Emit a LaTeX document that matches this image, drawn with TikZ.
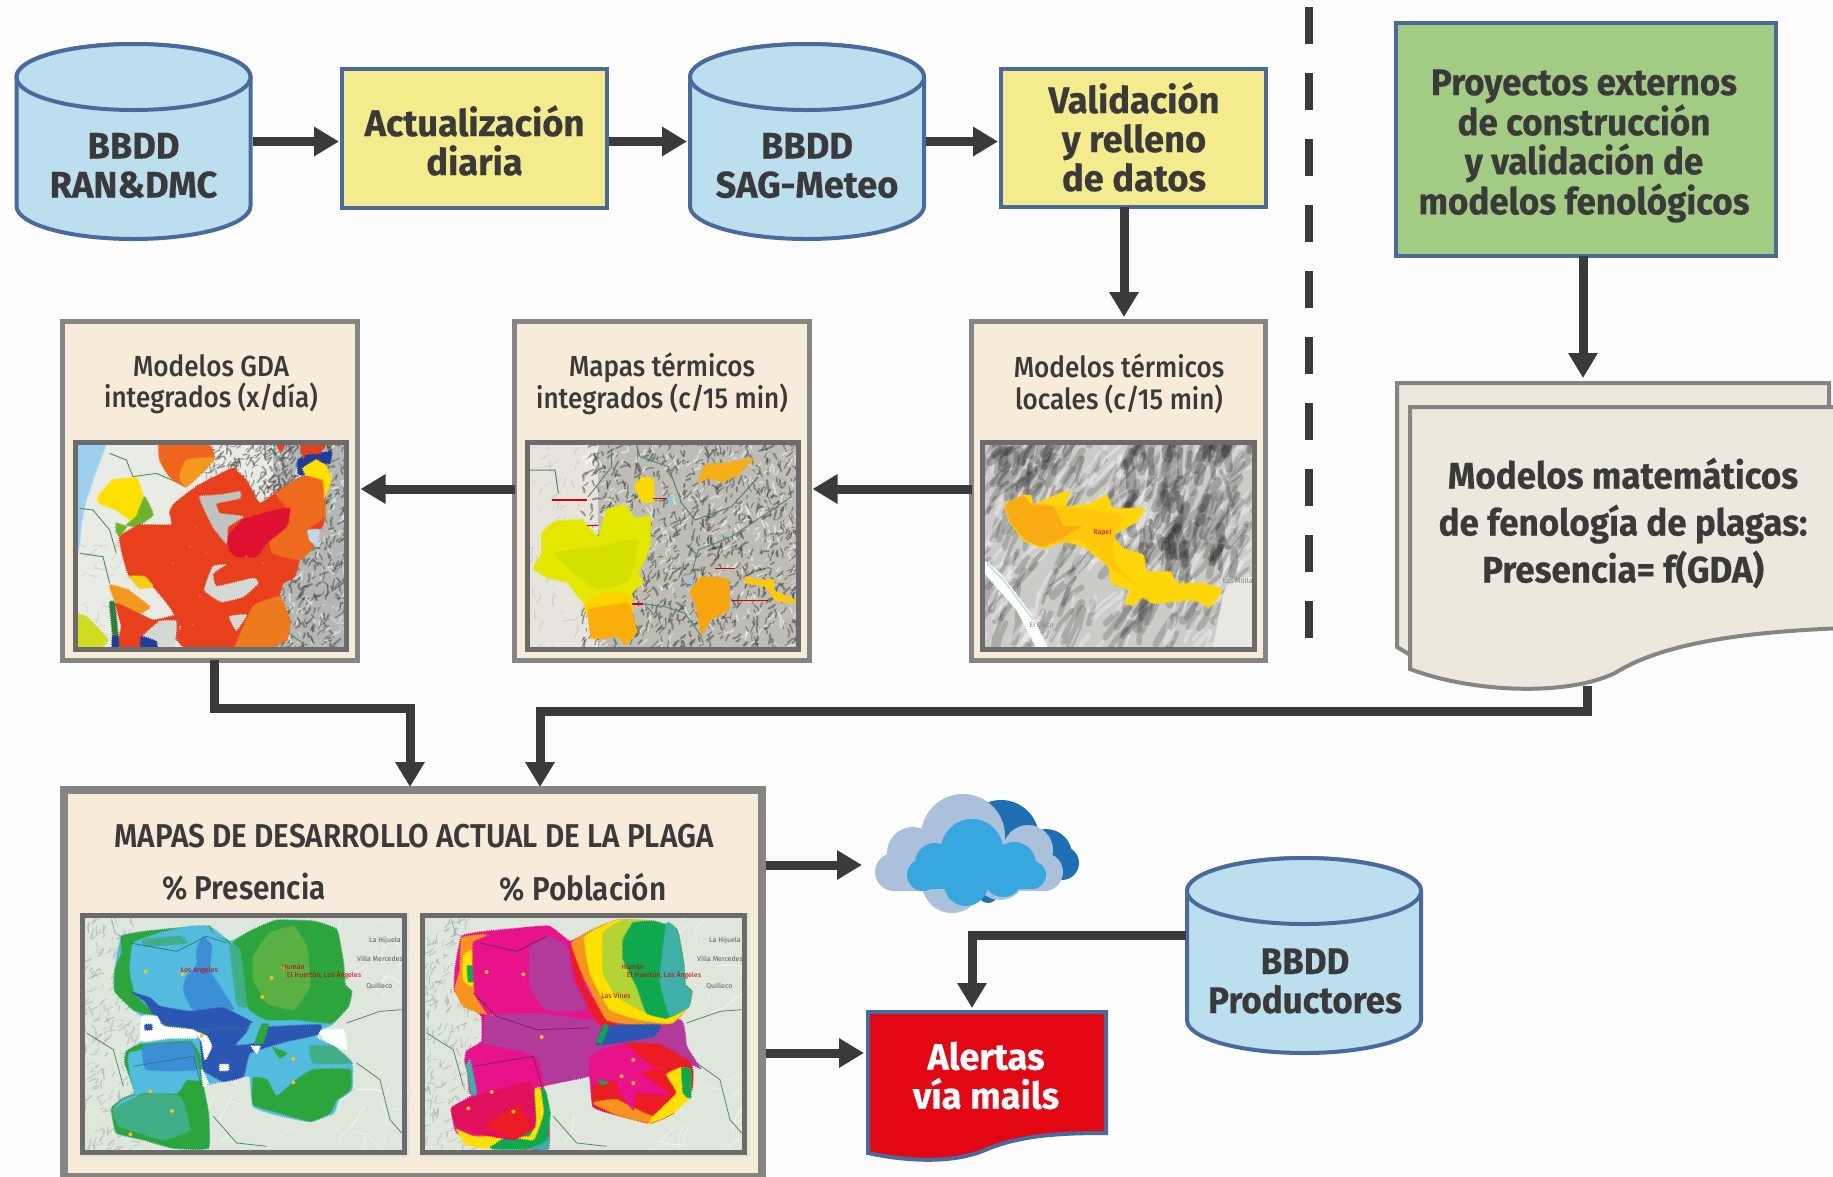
\documentclass[tikz,border=0pt]{standalone}
\usepackage{fontspec}
\usetikzlibrary{arrows.meta,calc}
\newfontfamily\fb[FakeStretch=.98,FakeBold=.35]{Fira Sans}
\newfontfamily\fbn[FakeStretch=.945,FakeBold=.35]{Fira Sans}
\newfontfamily\fm[FakeStretch=.90]{Fira Sans Medium}
\newfontfamily\fs[FakeStretch=.90]{Fira Sans SemiBold}
\newfontfamily\fr{Fira Sans}
\definecolor{pagebg}{HTML}{FDFDFD}
\definecolor{ink}{HTML}{3A3A3A}
\definecolor{edgeblue}{HTML}{4A6A9E}
\definecolor{cylfill}{HTML}{BBDFEE}
\definecolor{yelfill}{HTML}{F4EC8C}
\definecolor{grnfill}{HTML}{A2CC84}
\definecolor{beige}{HTML}{F6ECD9}
\definecolor{docfill}{HTML}{ECE8DD}
\definecolor{edgegray}{HTML}{858585}
\definecolor{framegray}{HTML}{6B6B6B}
\definecolor{redfill}{HTML}{E30613}
\definecolor{cloudA}{HTML}{1F6FB5}
\definecolor{cloudB}{HTML}{ABC0DA}
\definecolor{cloudC}{HTML}{38A7E0}
\definecolor{mgreen}{HTML}{2CA53C}
\definecolor{mgreenL}{HTML}{5AB043}
\definecolor{mlblue}{HTML}{53BBDD}
\definecolor{mmblue}{HTML}{3C8FD5}
\definecolor{mdblue}{HTML}{2B56B2}
\definecolor{mteal}{HTML}{42AE88}
\definecolor{mpurple}{HTML}{B23A9B}
\definecolor{mmag}{HTML}{E8128A}
\definecolor{mcrim}{HTML}{E0105A}
\definecolor{mred}{HTML}{EC1C24}
\definecolor{morange}{HTML}{F7941D}
\definecolor{myellow}{HTML}{FFE000}
\definecolor{mygreen}{HTML}{B4D334}
\definecolor{mgreenB}{HTML}{10A84F}
\definecolor{mtealB}{HTML}{3FB0A8}
\definecolor{landbg}{HTML}{DFE7DD}
\definecolor{adm}{HTML}{4F8A68}
\tikzset{
  HTML/.code={\definecolor{tmpc}{HTML}{#1}\tikzset{color=tmpc}},
  box/.style={rectangle,inner sep=0pt,outer sep=0pt},
  ybox/.style={box,draw=edgeblue,fill=yelfill,line width=4pt},
  gbox/.style={box,draw=edgeblue,fill=grnfill,line width=4pt},
  bbox/.style={box,draw=edgegray,fill=beige,line width=5pt},
  mapframe/.style={box,draw=framegray,line width=5pt},
  hit/.style={box},
  cyl/.style={draw=edgeblue,fill=cylfill,line width=4pt},
  conn/.style={draw=ink,line width=9pt,line join=miter,
    -{Triangle[length=25pt 0 0,width=28pt 0 0,fill=ink]},shorten >=3pt},
  bigt/.style={box,align=center,text=ink,font=\fb\bfseries\fontsize{37}{39}\selectfont},
  bign/.style={box,align=center,text=ink,font=\fbn\bfseries\fontsize{37}{39}\selectfont},
  midt/.style={box,align=center,text=ink,font=\fm\fontsize{29}{31.5}\selectfont},
  semit/.style={box,text=ink,font=\fs\fontsize{33}{35}\selectfont},
  tiny/.style={box,text=#1,font=\fr\fontsize{7}{8}\selectfont},
}
\newcommand\dbcyl[5]{%
  \pgfmathsetmacro\ccx{#2}\pgfmathsetmacro\ctop{#3+35}\pgfmathsetmacro\cbot{#4-35}
  \pgfmathsetmacro\cylL{#2-117}\pgfmathsetmacro\cylR{#2+117}
  \path[cyl] (\cylL,\ctop) -- (\cylL,\cbot) arc[start angle=180,end angle=360,x radius=117pt,y radius=33pt] -- (\cylR,\ctop) arc[start angle=0,end angle=180,x radius=117pt,y radius=33pt] -- cycle;
  \path[cyl] (\ccx,\ctop) ellipse [x radius=117pt,y radius=33pt];
  \pgfmathsetmacro\cmid{(#3+#4)/2}
  \node[hit,minimum width=234pt,minimum height=195pt] (#1) at (\ccx,\cmid) {};
}
\newcommand\mb[2]{\fill[#1] plot[smooth cycle,tension=.22] coordinates {#2};
  \draw[#1,line width=1.6pt,dash pattern=on 1pt off 1.2pt] plot[smooth cycle,tension=.22] coordinates {#2};}
\def\terrop{.5}\def\terrvar{110}
\newcommand\terr[9]{%
  \foreach \i in {1,...,#5}{%
    \pgfmathsetmacro\tx{#1+(#3-#1)*rnd}\pgfmathsetmacro\ty{#2+(#4-#2)*rnd}
    \pgfmathsetmacro\ta{#6+\terrvar*(rnd-.5)}\pgfmathsetmacro\tb{\ta+.7*\terrvar*(rnd-.5)}
    \pgfmathsetmacro\tl{#7*(.4+.8*rnd)}\pgfmathsetmacro\tw{#8*(.5+rnd)}
    \draw[line width=\tw pt,draw=#9,line cap=round,line join=round,opacity=\terrop] (\tx,\ty) -- ++(\ta:\tl) -- ++(\tb:\tl);
  }}
\newcommand\silh{(125,70) (200,55) (385,40) (450,85) (520,50) (590,22) (700,25) (770,50) (790,150) (795,215) (815,235) (805,280) (755,335) (720,350) (710,375) (760,400) (815,450) (815,530) (775,560) (760,600) (690,625) (590,605) (520,580) (510,490) (430,505) (370,520) (385,600) (385,705) (280,705) (190,680) (110,660) (95,585) (165,540) (135,450) (140,415) (185,385) (185,310) (160,290) (105,235) (105,170)}
\begin{document}
\begin{tikzpicture}[x=1pt,y=-1pt]
\useasboundingbox (0,0) rectangle (1833,1176);
\clip (0,0) rectangle (1833,1176);
\fill[pagebg] (0,0) rectangle (1833,1176);
\pgfmathsetseed{4711}

% ---- top row
\dbcyl{cylA}{133.5}{42}{241}{}
\node[bigt] (cylAt) at (133.5,165.5) {BBDD\\RAN\&DMC};
\node[ybox,minimum width=265pt,minimum height=139pt] (act) at (474.5,138.5) {};
\node[bigt] (actt) at (474.5,140.5) {Actualización\\diaria};
\dbcyl{cylB}{807}{42}{241}{}
\node[bigt] (cylBt) at (807,165.5) {BBDD\\SAG-Meteo};
\node[ybox,minimum width=265pt,minimum height=138pt] (val) at (1133.5,138) {};
\node[bigt] (valt) at (1134,137) {Validación\\y relleno\\de datos};
\draw[conn] (cylA.east) ++(2,0) -- (cylA.east -| act.west);
\draw[conn] (act.east) ++(2,3) coordinate (a1) -- (a1 -| cylB.west);
\draw[conn] (cylB.east) ++(2,0) -- (cylB.east -| val.west);

% ---- divider
\coordinate (divT) at (1309,7);
\coordinate (divB) at (1309,640);
\draw[ink,line width=8.5pt,dash pattern=on 37pt off 29pt] (divT) -- (divB);

% ---- green box and documents
\node[gbox,minimum width=380pt,minimum height=233pt] (grn) at (1585.5,139.5) {};
\node[bign] (grnt) at (1584,146) {Proyectos externos\\de construcción\\y validación de\\modelos fenológicos};
\fill[docfill,draw=edgegray,line width=4pt] (1397,383) -- (1829,383) -- (1829,600) -- (1450,620) -- (1412,656) -- (1397,647) -- cycle;
\fill[docfill,draw=edgegray,line width=4pt] (1410,407) -- (1845,407) -- (1845,628) .. controls (1735,632) and (1660,645) .. (1615,673) .. controls (1565,697) and (1470,692) .. (1410,669) -- cycle;
\node[bign] (doct) at (1623,523) [font=\fbn\bfseries\fontsize{37}{47}\selectfont] {Modelos matemáticos\\de fenología de plagas:\\Presencia= f(GDA)};
\coordinate (docTop) at (1583,381);
\coordinate (docBot) at (1587,686);
\draw[conn] (grn.south -| docTop) -- (docTop);

% ---- second row boxes
\node[bbox,minimum width=295pt,minimum height=339pt] (gda) at (210,491) {};
\node[midt] (gdat) at (211,384) {Modelos GDA\\integrados (x/día)};
\node[bbox,minimum width=295pt,minimum height=339pt] (mt) at (662,491) {};
\node[midt] (mtt) at (662,384) {Mapas térmicos\\integrados (c/15 min)};
\node[bbox,minimum width=294pt,minimum height=339pt] (loc) at (1118.5,491) {};
\node[midt] (loct) at (1119,384) {Modelos térmicos\\locales (c/15 min)};
\draw[conn] (val.south -| 1124,0) -- (1124,320);

% ---- GDA map
\begin{scope}[shift={(73,440)},x=.3333pt,y=-.3333pt]
\clip (0,0) rectangle (828,636);
\fill[HTML=E9EBE5] (0,0) rectangle (828,636);
\fill[HTML=B4B8B2] (600,0) rectangle (828,636);
\terr{570}{0}{828}{636}{420}{-70}{12}{1.5}{gray!55!black}
\terr{570}{0}{828}{636}{170}{-70}{11}{1.3}{white}
\terr{380}{10}{660}{180}{170}{-60}{12}{1.3}{gray!60!black}
\terr{0}{300}{160}{636}{40}{-40}{16}{.6}{gray!60}
\mb{HTML=9CD0EE}{(-40,-40) (112,-40) (70,90) (40,180) (25,250) (15,335) (-40,335)}
\draw[adm,line width=.9pt] (110,40) -- (160,60) -- (180,110) -- (250,100) -- (320,130);
\draw[adm,line width=.9pt] (20,205) -- (60,210) -- (110,270) -- (130,340);
\draw[adm,line width=.9pt] (20,340) -- (90,350) -- (110,430);
\draw[adm,line width=.9pt] (660,500) -- (620,560) -- (690,610);
\mb{HTML=F0641E}{(260,-20) (385,-20) (425,55) (340,140) (290,110) (260,60)}
\mb{HTML=F39A1E}{(340,60) (425,55) (340,140) (320,110)}
\mb{myellow}{(75,170) (120,120) (190,115) (210,170) (190,250) (130,210) (80,190)}
\mb{HTML=6DB32E}{(215,170) (240,225) (190,260) (160,255) (190,230)}
\mb{HTML=6DB32E}{(130,250) (160,260) (140,290) (130,275)}
\mb{HTML=E8401C}{(140,290) (200,255) (295,255) (290,215) (305,190) (370,140) (445,100) (480,85) (520,120) (560,190) (620,150) (690,110) (750,120) (755,230) (745,265) (700,270) (720,320) (680,360) (665,410) (630,430) (620,470) (650,540) (640,600) (540,640) (440,640) (330,620) (310,590) (325,560) (290,500) (240,440) (170,410) (150,350)}
\mb{HTML=EE6A1E}{(610,160) (690,110) (750,120) (755,230) (700,270) (720,320) (680,360) (600,340) (590,300) (650,250) (640,200)}
\mb{HTML=EE7A1E}{(540,500) (620,470) (650,540) (640,600) (540,640) (480,640)}
\mb{HTML=E01030}{(465,290) (510,240) (590,215) (650,205) (640,260) (580,310) (550,350) (490,350) (470,330)}
\mb{HTML=BFC4BE}{(380,170) (440,165) (500,155) (500,175) (430,190) (440,220) (510,230) (465,260) (460,310) (420,260) (400,220)}
\mb{HTML=D5D9D4}{(395,450) (420,380) (455,375) (420,400) (430,440) (540,415) (555,430) (510,470) (445,485)}
\mb{HTML=D5D9D4}{(470,530) (520,525) (490,570)}
\foreach \a/\b in {350/320,400/340,370/260,380/470,360/555,520/350,570/370,300/370}{\fill[HTML=F0641E] (\a,\b) circle[radius=4];}
\mb{HTML=F39A1E}{(110,435) (165,450) (230,500) (200,520) (130,490)}
\mb{HTML=E8401C}{(130,490) (240,540) (320,525) (310,600) (215,640) (130,640) (145,560)}
\mb{HTML=D5D9D4}{(210,590) (260,545) (310,545) (300,640) (240,640)}
\mb{HTML=CFDC22}{(0,525) (40,530) (105,600) (60,640) (0,640)}
\mb{HTML=2F7F3A}{(110,490) (125,490) (140,640) (125,640)}
\mb{HTML=1E3C9E}{(118,590) (135,590) (135,640) (118,640)}
\mb{HTML=1E3C9E}{(205,590) (250,605) (250,640) (205,640)}
\mb{HTML=1E3C9E}{(675,60) (700,45) (775,35) (770,70) (745,70) (690,105) (675,100)}
\mb{HTML=E8401C}{(680,-20) (775,-20) (740,40) (700,40) (690,55)}
\mb{myellow}{(690,85) (730,60) (760,80) (775,120) (755,170) (750,120) (700,105)}
\mb{HTML=E8401C}{(595,-20) (650,-20) (625,35)}
\mb{HTML=F0D010}{(170,410) (215,410) (240,440) (200,445)}
\mb{HTML=BFD9E8}{(705,270) (740,270) (730,315) (710,300)}
\end{scope}
\node[mapframe,minimum width=271pt,minimum height=207pt] (gdam) at (211,546) {};

% ---- thermal maps
\begin{scope}[shift={(525,440)},x=.3333pt,y=-.3333pt]
\clip (0,0) rectangle (828,636);
\fill[HTML=E6E4DC] (0,0) rectangle (828,636);
\fill[HTML=BDBDB5] (220,0) rectangle (828,636);
\terr{170}{0}{828}{636}{900}{-70}{12}{1.5}{gray!50!black}
\terr{170}{0}{828}{636}{380}{-70}{11}{1.3}{white}
\terr{0}{0}{170}{636}{70}{-60}{14}{.8}{gray!55}
\draw[adm,line width=1pt] (15,90) -- (90,90) -- (100,160);
\draw[adm,line width=1pt] (335,15) -- (345,50) -- (430,80) -- (470,190) -- (510,240) -- (620,200) -- (700,110);
\draw[adm,line width=1pt] (260,30) -- (260,80) -- (190,170);
\draw[adm,line width=1pt] (340,490) -- (420,500) -- (480,520) -- (530,590);
\draw[adm,line width=1pt] (500,400) -- (520,330) -- (620,290) -- (800,170);
\mb{HTML=E4E800}{(25,385) (50,340) (50,280) (90,245) (170,240) (220,290) (245,210) (300,195) (330,235) (375,230) (375,320) (340,400) (355,425) (320,460) (320,480) (180,490) (130,430) (95,420) (60,410)}
\mb{HTML=D4E000}{(90,340) (220,320) (340,300) (310,420) (220,450) (150,400)}
\mb{HTML=FDD300}{(180,490) (240,455) (300,460) (320,480) (320,520) (190,530)}
\mb{HTML=F9AE0A}{(190,510) (240,500) (310,490) (335,575) (300,615) (280,590) (200,595)}
\mb{HTML=FDD800}{(330,135) (355,110) (385,120) (385,185) (350,185)}
\mb{HTML=F5AE14}{(520,125) (540,75) (600,70) (685,55) (650,90) (640,105) (590,125) (550,115)}
\mb{HTML=F7A50E}{(495,455) (530,410) (610,420) (610,510) (555,540) (530,585) (520,530) (510,490)}
\mb{HTML=FDC80E}{(660,410) (700,420) (750,420) (745,450) (810,480) (805,490) (750,480) (720,440) (665,430)}
\fill[HTML=8CC8E8] (430,172) rectangle (445,188);
\fill[HTML=8CC8E8] (485,418) rectangle (505,432);
\draw[red!85!black,line width=1.4pt] (80,180) -- (185,180) (185,256) -- (220,256) (385,175) -- (425,175) (570,385) -- (630,385) (620,482) -- (730,482) (322,492) -- (355,492);
\end{scope}
\node[mapframe,minimum width=271pt,minimum height=207pt] (mtm) at (663,546) {};

\begin{scope}[shift={(980,440)},x=.3333pt,y=-.3333pt]
\clip (0,0) rectangle (828,636);
\fill[HTML=CBCBC7] (0,0) rectangle (828,636);
\def\terrvar{45}\def\terrop{.22}
\terr{-40}{-20}{828}{660}{230}{-65}{55}{6}{gray!45!black}
\def\terrop{.32}
\terr{-40}{-20}{828}{660}{200}{-60}{50}{3.4}{white}
\def\terrop{.28}
\terr{430}{20}{760}{420}{70}{-80}{40}{7}{gray!35!black}
\terr{20}{40}{260}{180}{40}{-60}{30}{6}{gray!35!black}
\mb{white}{(15,365) (60,400) (150,520) (215,650) (185,650) (110,510) (15,400)}
\draw[HTML=A8D6EC,line width=1pt] (20,370) -- (70,420) -- (160,540);
\mb{HTML=E9E9E4}{(740,440) (850,410) (850,650) (700,650)}
\mb{HTML=FFD60A}{(75,195) (130,165) (155,170) (160,195) (240,160) (270,155) (255,200) (330,190) (380,165) (400,205) (490,205) (470,245) (400,285) (430,325) (490,345) (500,395) (570,395) (590,430) (670,430) (725,450) (690,500) (640,480) (520,490) (490,470) (460,495) (435,490) (450,450) (395,430) (385,380) (310,320) (250,305) (190,325) (130,300) (90,245)}
\mb{HTML=FFC60B}{(120,190) (330,210) (430,230) (400,285) (400,360) (460,430) (380,370) (300,300) (180,310)}
\mb{HTML=F8AC12}{(78,195) (130,168) (155,195) (220,200) (250,260) (300,260) (240,295) (190,320) (135,298) (92,245)}
\node[tiny=red!85!black] (rapel) at (367,278) {Rapel};
\node[tiny=gray] (mollas) at (778,422) {Las Mollas};
\node[tiny=gray] (cisco) at (185,553) {El Cisco};
\end{scope}
\node[mapframe,minimum width=272pt,minimum height=207pt] (locm) at (1118.5,546) {};

\draw[conn] (loc.west |- 0,489) -- (mt.east |- 0,489);
\draw[conn] (mt.west |- 0,489) -- (gda.east |- 0,489);

% ---- main result box
\node[box,draw=edgegray,fill=beige,line width=8pt,minimum width=698pt,minimum height=387pt] (big) at (413,983.5) {};
\node[semit] (bigt) at (414,836) {MAPAS DE DESARROLLO ACTUAL DE LA PLAGA};
\node[semit] (pres) at (244,887) {\% Presencia};
\node[semit] (pobl) at (583,887) {\% Población};

% left pest map
\begin{scope}[shift={(80,913)},x=.3333pt,y=-.3333pt]
\clip (0,0) rectangle (990,732);
\fill[landbg] (0,0) rectangle (990,732);
\terr{0}{30}{170}{720}{220}{-60}{13}{1.1}{gray!70}
\terr{170}{470}{980}{720}{40}{-40}{40}{.8}{white}
\terr{600}{20}{980}{300}{20}{-40}{40}{.8}{white}
\draw[adm,line width=.8pt] (800,330) -- (900,295) -- (965,290);
\draw[adm,line width=.8pt] (830,450) -- (900,500) -- (930,620) -- (965,660);
\draw[adm,line width=.8pt] (400,610) -- (470,690) -- (560,700);
\draw[adm,line width=.8pt] (20,360) -- (100,410) -- (130,520);
\draw[HTML=7DB8D8,line width=.9pt] (95,20) -- (105,60) -- (130,75);
\mb{mlblue}{\silh}
\mb{mgreen}{(125,70) (200,55) (300,45) (390,40) (400,70) (450,90) (470,300) (300,300) (215,305) (160,290) (105,235) (105,170) (125,120)}
\mb{mlblue}{(160,90) (240,60) (330,40) (385,40) (400,65) (445,90) (480,180) (510,300) (400,300) (220,290) (165,240) (150,170)}
\mb{mteal}{(190,80) (300,70) (320,90) (200,100)}
\mb{mmblue}{(370,70) (395,100) (390,170) (425,230) (460,290) (340,290) (310,230) (320,190) (350,160) (350,110)}
\mb{mgreen}{(460,90) (520,50) (590,22) (700,25) (770,50) (790,150) (795,215) (815,235) (805,280) (755,330) (650,320) (560,320) (510,290) (470,210)}
\mb{mgreenL}{(570,60) (640,40) (680,100) (690,220) (640,290) (560,270) (520,200) (520,130)}
\mb{mteal}{(450,100) (480,110) (500,280) (470,270)}
\mb{mgreen}{(140,415) (180,395) (330,385) (360,430) (370,520) (385,600) (385,705) (280,705) (190,680) (110,660) (100,620) (95,585) (130,555) (165,540) (135,450)}
\mb{mlblue}{(150,420) (330,390) (360,500) (320,500) (290,540) (190,540) (130,560) (100,590) (120,640) (200,620) (165,540) (150,480)}
\mb{mmblue}{(190,400) (330,390) (350,470) (200,470)}
\mb{mteal}{(100,590) (190,545) (300,550) (330,650) (250,680) (120,640)}
\mb{mlblue}{(510,430) (600,385) (690,380) (760,400) (815,450) (815,530) (775,560) (760,600) (690,625) (590,605) (520,580) (510,490)}
\mb{mteal}{(690,400) (760,400) (815,450) (700,450)}
\mb{mgreen}{(520,495) (560,500) (590,550) (650,500) (700,470) (810,470) (810,530) (770,560) (750,600) (690,625) (600,600) (520,575)}
\mb{mgreen}{(580,405) (620,420) (600,435)}
\mb{mdblue}{(160,240) (210,255) (240,280) (330,295) (430,285) (520,330) (500,345) (720,335) (710,365) (620,385) (510,420) (490,490) (430,505) (370,470) (360,380) (340,350) (270,345) (225,310) (195,265)}
\mb{mlblue}{(515,330) (560,325) (540,385) (470,395) (500,360)}
\mb{mgreen}{(545,335) (565,335) (550,390) (525,390)}
\mb{white}{(185,310) (230,310) (250,340) (340,350) (350,375) (270,375) (185,385)}
\mb{white}{(345,355) (380,370) (395,400) (375,440) (365,385)}
\mb{white}{(720,355) (790,350) (800,410) (740,385)}
\mb{white}{(365,470) (385,510) (370,520)}
\mb{white}{(420,455) (445,455) (445,472) (420,472)}
\mb{white}{(515,400) (540,400) (530,420)}
\mb{mdblue}{(195,335) (215,335) (215,350) (195,350)}
\draw[HTML=2E6E8A,line width=.7pt] (150,90) -- (290,115) -- (380,70) -- (440,90);
\draw[HTML=2E6E8A,line width=.7pt] (240,330) -- (350,350) -- (510,345);
\draw[HTML=2E6E8A,line width=.7pt] (160,460) -- (340,430) -- (365,520);
\foreach \a/\b in {197/175,308/183,610/163,575/195,547/252,365/368,640/438,640/508,211/535,276/594,151/664}{\fill[HTML=F4C020] (\a,\b) circle[radius=6];}
\node[tiny=gray!70!black] (lhl) at (915,83) {La Hijuela};
\node[tiny=gray!70!black] (vml) at (900,137) {Villa Mercedes};
\node[tiny=gray!70!black] (qul) at (898,218) {Quilleco};
\node[tiny=red!80!black] (lal) at (358,174) {Los Angeles};
\node[tiny=red!80!black] (hul) at (640,160) {Humán};
\node[tiny=red!80!black] (las) at (732,187) {El Huertón, Los Ángeles};
\end{scope}
\node[mapframe,minimum width=322pt,minimum height=237pt] (mapL) at (243.5,1034) {};

% right pest map
\begin{scope}[shift={(420,913)},x=.3333pt,y=-.3333pt]
\clip (0,0) rectangle (990,732);
\fill[landbg] (0,0) rectangle (990,732);
\terr{0}{30}{170}{720}{220}{-60}{13}{1.1}{gray!70}
\terr{170}{470}{980}{720}{40}{-40}{40}{.8}{white}
\terr{600}{20}{980}{300}{20}{-40}{40}{.8}{white}
\draw[adm,line width=.8pt] (800,330) -- (900,295) -- (965,290);
\draw[adm,line width=.8pt] (830,450) -- (900,500) -- (930,620) -- (965,660);
\draw[adm,line width=.8pt] (400,610) -- (470,690) -- (560,700);
\draw[adm,line width=.8pt] (20,360) -- (100,410) -- (130,520);
\draw[HTML=7DB8D8,line width=.9pt] (95,20) -- (105,60) -- (130,75);
\mb{mmag}{\silh}
\mb{mpurple}{(200,310) (340,300) (520,320) (780,320) (800,400) (840,465) (810,450) (700,400) (520,420) (500,490) (430,505) (370,515) (345,430) (160,420) (190,390)}
\mb{morange}{(125,75) (190,65) (215,75) (165,100) (165,240) (220,305) (180,300) (130,280) (105,230) (120,170)}
\mb{myellow}{(130,130) (160,110) (160,220) (130,200)}
\mb{mgreenB}{(142,160) (160,160) (160,205) (145,205)}
\mb{mmag}{(160,90) (250,55) (385,40) (450,100) (470,200) (510,290) (530,320) (400,300) (230,300) (205,305) (165,240)}
\mb{mpurple}{(330,100) (385,70) (440,100) (460,200) (500,290) (380,290) (330,220)}
\mb{mred}{(450,100) (480,130) (490,220) (560,320) (590,335) (540,335) (510,290) (470,200)}
\mb{morange}{(455,90) (520,50) (590,22) (700,25) (770,50) (790,150) (795,215) (815,235) (805,280) (755,330) (650,335) (560,320) (490,190)}
\mb{myellow}{(495,70) (590,22) (700,25) (770,50) (790,150) (795,215) (815,235) (805,280) (755,330) (660,320) (570,290) (510,180)}
\mb{mygreen}{(550,60) (610,22) (700,25) (770,50) (790,150) (795,215) (815,235) (805,280) (755,310) (680,300) (590,250) (550,180)}
\mb{mgreenB}{(610,80) (640,30) (700,25) (770,50) (790,150) (795,215) (815,235) (805,280) (740,315) (680,300) (650,220) (610,140)}
\mb{mtealB}{(740,30) (770,50) (790,150) (795,215) (815,235) (805,280) (750,310) (720,200)}
\mb{mmag}{(140,420) (190,395) (345,430) (370,515) (330,510) (300,550) (190,545) (150,540)}
\mb{mtealB}{(140,460) (150,440) (170,540) (155,545)}
\mb{mtealB}{(330,700) (385,670) (385,708) (330,708)}
\mb{mgreenB}{(200,690) (260,660) (345,640) (345,540) (375,530) (390,600) (380,680) (320,708) (220,708)}
\mb{myellow}{(110,650) (160,670) (250,670) (330,670) (350,620) (345,530) (360,525) (370,600) (340,680) (260,670) (200,705) (140,695)}
\mb{mcrim}{(95,585) (190,545) (330,510) (345,640) (280,680) (170,660) (110,640)}
\mb{mred}{(200,640) (250,600) (300,580) (330,650) (280,675)}
\mb{mmag}{(510,430) (620,390) (800,440) (815,530) (775,560) (760,600) (690,630) (590,605) (520,580)}
\mb{mred}{(620,390) (720,395) (800,440) (815,465) (700,460)}
\mb{mred}{(520,520) (600,500) (700,470) (815,465) (815,530) (775,560) (760,600) (690,630) (590,605) (520,580)}
\mb{morange}{(520,570) (590,560) (700,610) (790,530) (815,530) (775,560) (760,600) (690,630) (590,605)}
\mb{mmag}{(590,500) (640,470) (750,545) (650,540) (640,590) (600,540)}
\mb{myellow}{(740,485) (780,465) (810,470) (810,550) (760,600) (690,630) (700,610) (770,540)}
\mb{mgreenB}{(785,465) (812,470) (812,555) (790,540)}
\mb{mdblue}{(555,340) (720,335) (700,370) (620,385) (530,395)}
\mb{mgreenB}{(530,385) (555,335) (565,340) (545,390)}
\mb{mgreenB}{(535,500) (565,510) (545,515)}
\draw[HTML=6B2A66,line width=.8pt] (160,240) -- (230,310) -- (350,350) -- (510,345);
\draw[HTML=6B2A66,line width=.8pt] (160,460) -- (340,430) -- (365,520);
\draw[HTML=6B2A66,line width=.8pt] (180,90) -- (290,115) -- (380,70);
\foreach \a/\b in {200/177,310/184,365/372,640/440,605/490,640/510,215/537,145/586,280/596}{\fill[HTML=F4C020] (\a,\b) circle[radius=6];}
\node[tiny=gray!70!black] (lhr) at (915,83) {La Hijuela};
\node[tiny=gray!70!black] (vmr) at (900,137) {Villa Mercedes};
\node[tiny=gray!70!black] (qur) at (898,218) {Quilleco};
\node[tiny=red!80!black] (hur) at (638,160) {Humán};
\node[tiny=red!80!black] (lar) at (732,187) {El Huertón, Los Ángeles};
\node[tiny=red!80!black] (lvr) at (588,248) {Las Vines};
\end{scope}
\node[mapframe,minimum width=322pt,minimum height=237pt] (mapR) at (583.5,1034) {};

% ---- connectors into the big box
\coordinate (gdaS) at (214,660);
\coordinate (ja) at (410,708);
\coordinate (jb) at (540,711);
\draw[conn] (gdaS) |- (ja) -- (ja |- big.north);
\draw[conn] (docBot) |- (jb) -- (jb |- big.north);

% ---- cloud
\coordinate (cloudW) at (865,865);
\fill[cloudA] (1001,838) circle[radius=38] (1046,855) circle[radius=26] (1062,863) circle[radius=17] (988,893) circle[radius=10];
\fill[cloudB] (963,836) circle[radius=42] (913,853) circle[radius=26] (894,872) circle[radius=19] (952,883) circle[radius=30] (1028,850) circle[radius=25] (1044,872) circle[radius=19] (1000,875) circle[radius=25];
\fill[cloudB] (894,872) rectangle (1044,891);
\fill[cloudC] (972,850) circle[radius=31] (935,863) circle[radius=20] (923,875) circle[radius=16] (966,884) circle[radius=22] (1003,877) circle[radius=20] (1014,864) circle[radius=22] (1032,875) circle[radius=14];
\fill[cloudC] (923,870) rectangle (1032,889);
\draw[conn,shorten <=4pt] (big.east |- cloudW) -- (cloudW);

% ---- alert document
\fill[redfill,draw=edgeblue,line width=4pt] (868,1012) -- (1106,1012) -- (1106,1133) .. controls (1060,1133) and (1020,1135) .. (985,1150) .. controls (950,1165) and (900,1160) .. (868,1153) -- cycle;
\node[bigt,text=white] (alt) at (986,1075.5) {Alertas\\vía mails};
\coordinate (alW) at (867,1053);
\coordinate (alN) at (972,1011);
\draw[conn,shorten <=4pt] (big.east |- alW) -- (alW);

% ---- producers database
\dbcyl{cylC}{1304}{856}{1055}{}
\node[bign] (cylCt) at (1305,981) {BBDD\\Productores};
\coordinate (cc) at (1186,935);
\draw[conn] (cc) -| (alN);
\end{tikzpicture}
\end{document}
